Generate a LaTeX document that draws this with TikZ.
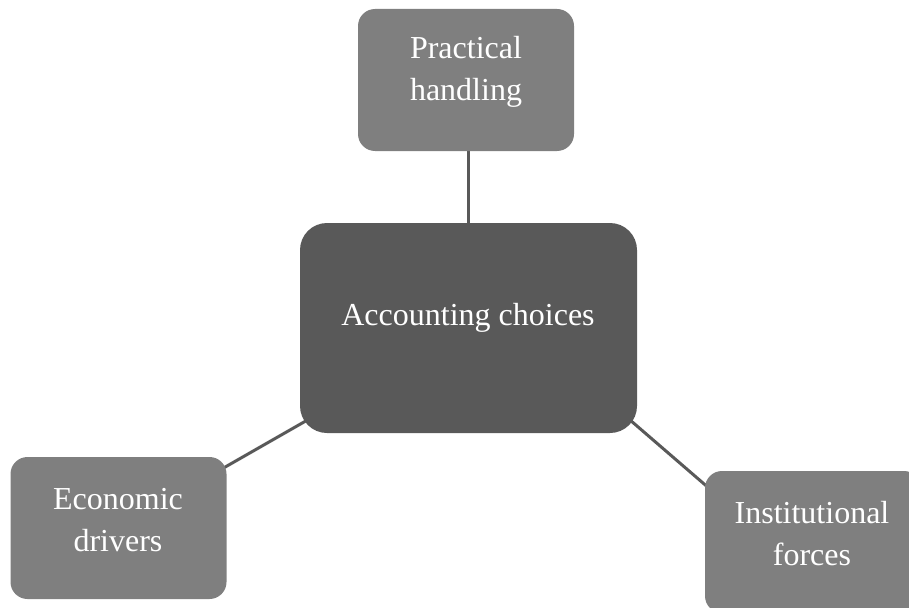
\documentclass[tikz,border=0pt]{standalone}
\usepackage{fontspec}
\setmainfont{Liberation Serif}
\usetikzlibrary{calc,backgrounds}
\definecolor{boxlight}{HTML}{7F7F7F}
\definecolor{boxdark}{HTML}{595959}
\tikzset{
  sidebox/.style={draw=none, fill=boxlight, rounded corners=17pt, minimum width=216pt, minimum height=142pt, inner sep=0pt},
  mainbox/.style={draw=none, fill=boxdark, rounded corners=27pt, minimum width=337pt, minimum height=210pt, inner sep=0pt},
  lbl/.style={text=white, align=center, font=\fontsize{32pt}{42pt}\selectfont, inner sep=0pt},
  conn/.style={draw=boxdark, line width=3pt}
}
\begin{document}
\begin{tikzpicture}[x=1pt,y=-1pt]
\useasboundingbox (0,0) rectangle (909,607);
\clip (0,0) rectangle (909,607);
\node[sidebox] (top) at (466,80) {};
\node[mainbox] (center) at (468.5,328) {};
\node[sidebox] (left) at (118.5,528) {};
\node[sidebox] (right) at (813,542) {};
\node[lbl] (topt) at (466,72) {Practical\\handling};
\node[lbl] (centert) at (468,318) {Accounting choices};
\node[lbl] (leftt) at (118,520) {Economic\\drivers};
\node[lbl] (rightt) at (812,534) {Institutional\\forces};
\begin{pgfonlayer}{background}
\draw[conn] (top.south -| center.north) -- (center.north);
\draw[conn] (left.center) -- (center.center);
\draw[conn] ($(center.south east)+(-22,-26)$) -- ($(right.north west)+(35,44)$);
\end{pgfonlayer}
\end{tikzpicture}
\end{document}
